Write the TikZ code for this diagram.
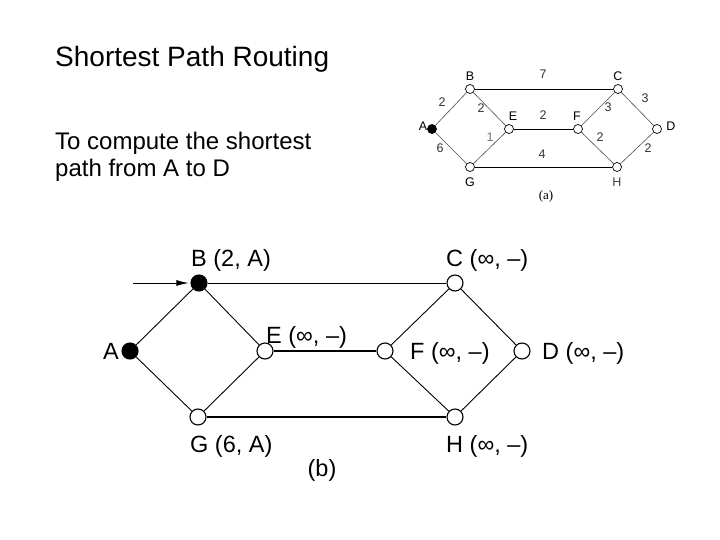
\documentclass[tikz,border=0pt]{standalone}
\usepackage{fontspec}
\setmainfont{Liberation Sans}
\newfontfamily\capfont{Liberation Serif}
\usetikzlibrary{positioning,arrows.meta}

\begin{document}
\begin{tikzpicture}[x=1pt, y=-1pt,
  vbig/.style={circle, draw, line width=1.1pt, fill=white, minimum size=16pt, inner sep=0pt},
  vbigon/.style={vbig, fill=black},
  vsmall/.style={circle, draw, line width=0.7pt, fill=white, minimum size=9pt, inner sep=0pt},
  vsmallon/.style={vsmall, fill=black},
  blbl/.style={font=\fontsize{23.5}{28}\selectfont, inner sep=0pt, anchor=base west},
  tlbl/.style={font=\fontsize{12.5}{15}\selectfont, inner sep=0pt, anchor=base},
  wt/.style={tlbl, text=black!80},
  diag/.style={line width=0.6pt, black!70},
  link/.style={line width=0.9pt},
  thick link/.style={line width=1.8pt},
  arrow/.style={-{Latex[length=12pt, width=6pt]}, line width=0.9pt},
]
\useasboundingbox (0,0) rectangle (720,540);

% === TEXT ===
\node[anchor=base west, inner sep=0pt, font=\fontsize{28}{33}\selectfont] (title) at (55,67) {Shortest Path Routing};
\node[anchor=base west, inner sep=0pt, font=\fontsize{24}{27}\selectfont] (task1) at (55,150) {To compute the shortest};
\node[anchor=base west, inner sep=0pt, font=\fontsize{24}{27}\selectfont] (task2) at (55,177) {path from A to D};

% === GRAPH (a) ===
\node[vsmallon] (aA) at (432,129) {};
\node[vsmall] (aB) at (470,89) {};
\node[vsmall] (aC) at (618,89) {};
\node[vsmall] (aE) at (509,129) {};
\node[vsmall] (aF) at (578,129) {};
\node[vsmall] (aD) at (657,129) {};
\node[vsmall] (aG) at (470,167) {};
\node[vsmall] (aH) at (617,167) {};

\draw[diag] (aA) -- (aB);
\draw[diag] (aA) -- (aG);
\draw[diag] (aB) -- (aE);
\draw[diag] (aG) -- (aE);
\draw[diag] (aF) -- (aC);
\draw[diag] (aF) -- (aH);
\draw[diag] (aC) -- (aD);
\draw[diag] (aH) -- (aD);
\draw[link] (aB) -- (aC);
\draw[link] (aE) -- (aF);
\draw[link] (aG) -- (aH);

\node[tlbl] (aAl) at (423,131) {A};
\node[tlbl] (aBl) at (470,81) {B};
\node[tlbl] (aCl) at (618,81) {C};
\node[tlbl] (aEl) at (513,121) {E};
\node[tlbl] (aFl) at (577,121) {F};
\node[tlbl] (aDl) at (671,131) {D};
\node[tlbl] (aGl) at (470,187) {G};
\node[tlbl, text=black!75] (aHl) at (617,187) {H};

\node[wt] (wBC) at (543,79) {7};
\node[wt] (wAB) at (442,107) {2};
\node[wt] (wBE) at (481,113) {2};
\node[wt] (wEF) at (543,120) {2};
\node[wt] (wFC) at (608,112) {3};
\node[wt] (wCD) at (645,103) {3};
\node[wt, text=black!55] (wEG) at (490,142) {1};
\node[wt] (wAG) at (440,153) {6};
\node[wt] (wGH) at (542,159) {4};
\node[wt] (wFH) at (600,142) {2};
\node[wt] (wHD) at (648,153) {2};

\node[tlbl, font=\capfont\fontsize{13}{15}\selectfont] (capa) at (546,200) {(a)};

% === GRAPH (b) ===
\node[vbigon] (A) at (130,351) {};
\node[vbigon] (B) at (199,283) {};
\node[vbig] (E) at (265,351) {};
\node[vbig] (G) at (198,417) {};
\node[vbig] (C) at (455,283) {};
\node[vbig] (F) at (385,351) {};
\node[vbig] (D) at (522,351) {};
\node[vbig] (H) at (455,417) {};

\draw[link] (A) -- (B);
\draw[link] (A) -- (G);
\draw[link] (B) -- (E);
\draw[link] (G) -- (E);
\draw[link] (F) -- (C);
\draw[link] (F) -- (H);
\draw[link] (C) -- (D);
\draw[link] (H) -- (D);
\draw[link] (B) -- (C);
\draw[thick link] (E) -- (F);
\draw[thick link] (G) -- (H);

\coordinate (in) at (133,283);
\draw[arrow] (in) -- ([xshift=-2pt]B.west);

\node[blbl] (Al) at (103,359) {A};
\node[blbl] (Bl) at (191,266) {B (2, A)};
\node[blbl] (Cl) at (446,266) {C (∞, –)};
\node[blbl] (El) at (266,343) {E (∞, –)};
\node[blbl] (Fl) at (410,359) {F (∞, –)};
\node[blbl] (Dl) at (542,359) {D (∞, –)};
\node[blbl] (Gl) at (190,452) {G (6, A)};
\node[blbl] (Hl) at (446,452) {H (∞, –)};
\node[blbl, anchor=base] (capb) at (322,476) {(b)};
\end{tikzpicture}
\end{document}
